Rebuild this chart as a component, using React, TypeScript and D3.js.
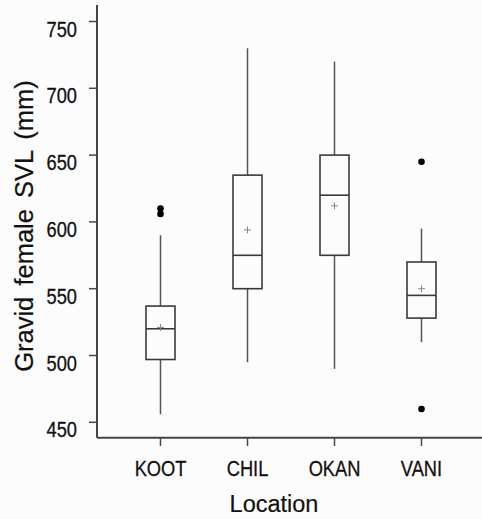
import React from "react";
import * as d3 from "d3";

const categories = ["KOOT", "CHIL", "OKAN", "VANI"];
const whiskerLow = [456, 495, 490, 510];
const q1 = [497, 550, 575, 528];
const medians = [520, 575, 620, 545];
const q3 = [537, 635, 650, 570];
const whiskerHigh = [590, 730, 720, 595];
const means = [521, 594, 612, 550];
const outliers: [string, number][] = [
  ["KOOT", 610],
  ["KOOT", 606],
  ["VANI", 645],
  ["VANI", 460],
];
const yTicks = [450, 500, 550, 600, 650, 700, 750];

const W = 482;
const H = 519;

export default function App() {
  const y = d3.scaleLinear().domain([450, 750]).range([422.3, 21.5]);
  const x = d3.scaleBand().domain(categories).range([117, 465]).paddingInner(0).paddingOuter(0);
  const bw = 29;
  const axisX = 97;
  const axisY = 437.7;
  const ink = "#3a3a3a";
  return (
    <svg
      width={W}
      height={H}
      style={{ position: "absolute", left: 0, top: 0 }}
      fontFamily="'Liberation Sans', Arial, sans-serif"
    >
      <rect x={0} y={0} width={W} height={H} fill="#fcfcfc" />
      {/* axes */}
      <line x1={axisX} x2={axisX} y1={5} y2={axisY} stroke="#444" strokeWidth={2} />
      <line x1={axisX} x2={W} y1={axisY} y2={axisY} stroke="#444" strokeWidth={2} />
      {yTicks.map((t) => (
        <g key={t}>
          <line x1={89} x2={axisX} y1={y(t)} y2={y(t)} stroke="#4a4a4a" strokeWidth={1.5} />
          <text
            transform={`translate(77,${y(t) + 15}) scale(0.85,1)`}
            textAnchor="end"
            fontSize={21.5}
            fill="#111"
            stroke="#111"
            strokeWidth={0.3}
          >
            {t}
          </text>
        </g>
      ))}
      {categories.map((c) => {
        const cx = (x(c) as number) + x.bandwidth() / 2;
        return (
          <g key={c}>
            <line x1={cx} x2={cx} y1={axisY} y2={446} stroke="#4a4a4a" strokeWidth={1.5} />
            <text
              transform={`translate(${cx},476) scale(0.85,1)`}
              textAnchor="middle"
              fontSize={21.5}
              fill="#111"
              stroke="#111"
              strokeWidth={0.3}
            >
              {c}
            </text>
          </g>
        );
      })}
      {/* boxes */}
      {categories.map((c, i) => {
        const cx = (x(c) as number) + x.bandwidth() / 2;
        const m = y(means[i]);
        return (
          <g key={c}>
            <line x1={cx} x2={cx} y1={y(whiskerHigh[i])} y2={y(q3[i])} stroke="#555" strokeWidth={1.5} />
            <line x1={cx} x2={cx} y1={y(q1[i])} y2={y(whiskerLow[i])} stroke="#555" strokeWidth={1.5} />
            <rect
              x={cx - bw / 2}
              y={y(q3[i])}
              width={bw}
              height={y(q1[i]) - y(q3[i])}
              fill="none"
              stroke={ink}
              strokeWidth={1.6}
            />
            <line x1={cx - bw / 2} x2={cx + bw / 2} y1={y(medians[i])} y2={y(medians[i])} stroke={ink} strokeWidth={1.6} />
            <line x1={cx - 3.5} x2={cx + 3.5} y1={m} y2={m} stroke="#888" strokeWidth={1} />
            <line x1={cx} x2={cx} y1={m - 3.5} y2={m + 3.5} stroke="#888" strokeWidth={1} />
          </g>
        );
      })}
      {outliers.map(([c, v], i) => (
        <circle
          key={i}
          cx={(x(c) as number) + x.bandwidth() / 2}
          cy={y(v)}
          r={3.3}
          fill="#000"
        />
      ))}
      {/* axis titles */}
      <text
        transform="translate(33,226) rotate(-90)"
        textAnchor="middle"
        fontSize={25.5}
        wordSpacing={4}
        fill="#111"
        stroke="#111"
        strokeWidth={0.2}
      >
        Gravid female SVL (mm)
      </text>
      <text x={274} y={512} textAnchor="middle" fontSize={23.5} fill="#111" stroke="#111" strokeWidth={0.2}>
        Location
      </text>
    </svg>
  );
}
